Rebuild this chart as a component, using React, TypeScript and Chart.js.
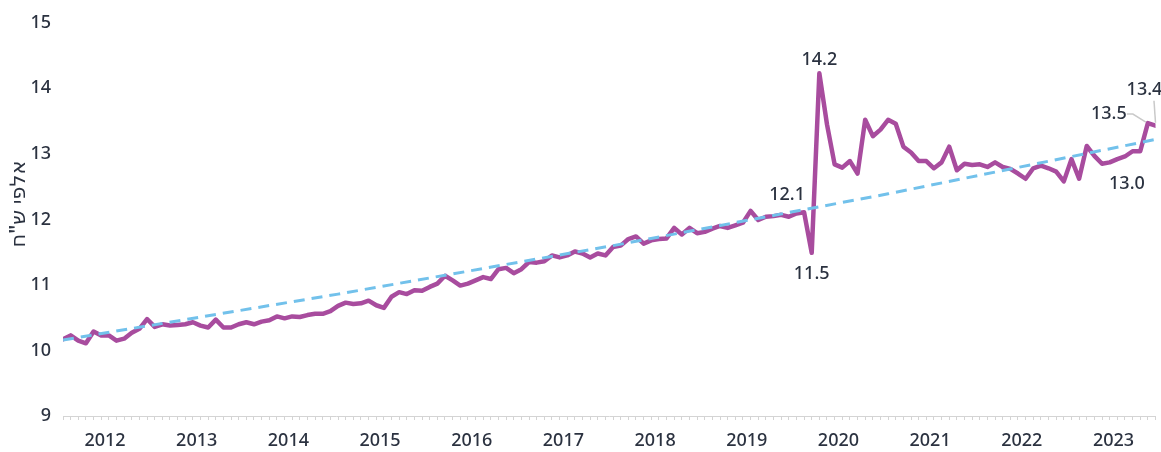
import React, { useEffect, useRef } from 'react';
import { Chart, registerables } from 'chart.js';

Chart.register(...registerables);

// ---- data ----
const years = ['2012', '2013', '2014', '2015', '2016', '2017', '2018', '2019', '2020', '2021', '2022', '2023'];

// monthly values, Jan 2012 .. Dec 2023 (thousand NIS)
const wages = [
  10.17, 10.23, 10.15, 10.11, 10.29, 10.23, 10.23, 10.15, 10.18, 10.27, 10.33, 10.48,
  10.36, 10.40, 10.38, 10.39, 10.40, 10.43, 10.38, 10.35, 10.47, 10.35, 10.35, 10.40,
  10.43, 10.40, 10.44, 10.46, 10.52, 10.49, 10.52, 10.51, 10.54, 10.56, 10.56, 10.60,
  10.68, 10.73, 10.71, 10.72, 10.76, 10.69, 10.65, 10.82, 10.89, 10.86, 10.92, 10.91,
  10.97, 11.02, 11.14, 11.07, 10.99, 11.02, 11.07, 11.12, 11.09, 11.24, 11.26, 11.18,
  11.24, 11.35, 11.34, 11.36, 11.45, 11.42, 11.45, 11.51, 11.48, 11.42, 11.48, 11.45,
  11.58, 11.60, 11.70, 11.74, 11.63, 11.68, 11.70, 11.71, 11.87, 11.77, 11.87, 11.79,
  11.81, 11.86, 11.90, 11.87, 11.91, 11.95, 12.13, 11.99, 12.04, 12.05, 12.07, 12.04,
  12.09, 12.11, 11.49, 14.23, 13.45, 12.84, 12.79, 12.89, 12.70, 13.52, 13.27, 13.37,
  13.52, 13.46, 13.11, 13.02, 12.89, 12.89, 12.78, 12.87, 13.11, 12.75, 12.85, 12.83,
  12.84, 12.80, 12.87, 12.80, 12.77, 12.70, 12.62, 12.78, 12.82, 12.78, 12.73, 12.58,
  12.92, 12.62, 13.12, 12.97, 12.85, 12.87, 12.92, 12.96, 13.04, 13.04, 13.47, 13.43,
];

// trend line, read at a few month indices
const trendIdx = [0, 36, 72, 108, 143];
const trendVals = [10.16, 10.86, 11.6, 12.39, 13.22];

const yTicks = [9, 10, 11, 12, 13, 14, 15];
const labeledIdx = [97, 98, 99, 139, 142, 143];
const yTitle = 'אלפי ש"ח';

// ---- styles ----
const FONT_FAMILY = '"Noto Sans", "DejaVu Sans", sans-serif';
const TEXT = '#2b3240';
const LINE = '#a84c9e';
const TREND = '#72c1eb';
const AXIS = '#d4d4d4';

const labelStyle: Record<number, { dx: number; dy: number; leader?: [number, number][] }> = {
  97: { dx: -17, dy: -17 },
  98: { dx: 0, dy: 21 },
  99: { dx: 0, dy: -13 },
  139: { dx: 2, dy: 27 },
  142: { dx: -39, dy: -9, leader: [[-21, -9], [-15, -9], [-2, -1]] },
  143: { dx: -11, dy: -36, leader: [[-1.5, -25], [0, -3]] },
};

const labelsPlugin = {
  id: 'customLabels',
  afterDatasetsDraw(chart: any) {
    const ctx = chart.ctx;
    const meta = chart.getDatasetMeta(1);
    ctx.save();
    ctx.font = `500 18px ${FONT_FAMILY}`;
    ctx.textAlign = 'center';
    ctx.textBaseline = 'middle';
    for (const i of labeledIdx) {
      const el = meta.data[i];
      if (!el) continue;
      const st = labelStyle[i];
      if (st.leader) {
        ctx.strokeStyle = '#c9c9c9';
        ctx.lineWidth = 1.5;
        ctx.beginPath();
        st.leader.forEach(([lx, ly], k) => {
          if (k === 0) ctx.moveTo(el.x + lx, el.y + ly);
          else ctx.lineTo(el.x + lx, el.y + ly);
        });
        ctx.stroke();
      }
      ctx.fillStyle = TEXT;
      ctx.fillText(wages[i].toFixed(1), el.x + st.dx, el.y + st.dy);
    }
    ctx.restore();
  },
  afterDraw(chart: any) {
    const ctx = chart.ctx;
    ctx.save();
    ctx.translate(19, 204);
    ctx.rotate(-Math.PI / 2);
    ctx.font = `500 21px ${FONT_FAMILY}`;
    ctx.fillStyle = TEXT;
    ctx.textAlign = 'center';
    ctx.textBaseline = 'middle';
    ctx.fillText(yTitle, 0, 0);
    ctx.restore();
  },
};

export default function App() {
  const ref = useRef<HTMLCanvasElement>(null);

  useEffect(() => {
    if (!ref.current) return;
    const chart = new Chart(ref.current, {
      type: 'line',
      data: {
        datasets: [
          {
            label: 'trend',
            data: trendIdx.map((i, k) => ({ x: i, y: trendVals[k] })),
            borderColor: TREND,
            borderWidth: 3,
            borderDash: [11, 7],
            pointRadius: 0,
            tension: 0,
          },
          {
            label: 'wage',
            data: wages.map((v, i) => ({ x: i, y: v })),
            borderColor: LINE,
            borderWidth: 4.5,
            borderJoinStyle: 'round',
            borderCapStyle: 'round',
            pointRadius: 0,
            tension: 0,
          },
        ],
      },
      options: {
        responsive: false,
        animation: false,
        layout: { padding: { top: 19, right: 5.5, bottom: 0, left: 0 } },
        plugins: { legend: { display: false }, tooltip: { enabled: false } },
        scales: {
          x: {
            type: 'linear',
            min: 0,
            max: wages.length - 1,
            afterBuildTicks(scale: any) {
              const t: number[] = [];
              for (let i = 0; i < wages.length; i++) t.push(i);
              years.forEach((_, k) => t.push(k * 12 + 5.5));
              t.sort((a, b) => a - b);
              scale.ticks = t.map((v) => ({ value: v }));
            },
            afterFit(scale: any) {
              scale.height = 36;
              scale.paddingRight = 0;
              scale.paddingLeft = 0;
            },
            border: { display: true, color: AXIS, width: 1 },
            grid: {
              display: true,
              drawOnChartArea: false,
              drawTicks: true,
              tickLength: 4,
              color: AXIS,
              tickColor: (c: any) =>
                c.tick && Number.isInteger(c.tick.value) ? AXIS : 'rgba(0,0,0,0)',
            },
            ticks: {
              autoSkip: false,
              maxRotation: 0,
              minRotation: 0,
              padding: 10,
              color: TEXT,
              font: { family: FONT_FAMILY, size: 18, weight: '500' },
              callback: (v: any) =>
                Number.isInteger(v) ? '' : years[Math.floor(Number(v) / 12)],
            },
          },
          y: {
            min: 9,
            max: 15,
            afterBuildTicks(scale: any) {
              scale.ticks = yTicks.map((v) => ({ value: v }));
            },
            afterFit(scale: any) {
              scale.width = 63;
            },
            border: { display: false },
            grid: { display: false, drawTicks: false },
            ticks: {
              padding: 12,
              color: TEXT,
              font: { family: FONT_FAMILY, size: 18, weight: '500' },
            },
          },
        },
      },
      plugins: [labelsPlugin],
    } as any);
    return () => chart.destroy();
  }, []);

  return (
    <canvas
      ref={ref}
      width={1161}
      height={452}
      style={{ position: 'absolute', left: 0, top: 0, width: 1161, height: 452 }}
    />
  );
}
